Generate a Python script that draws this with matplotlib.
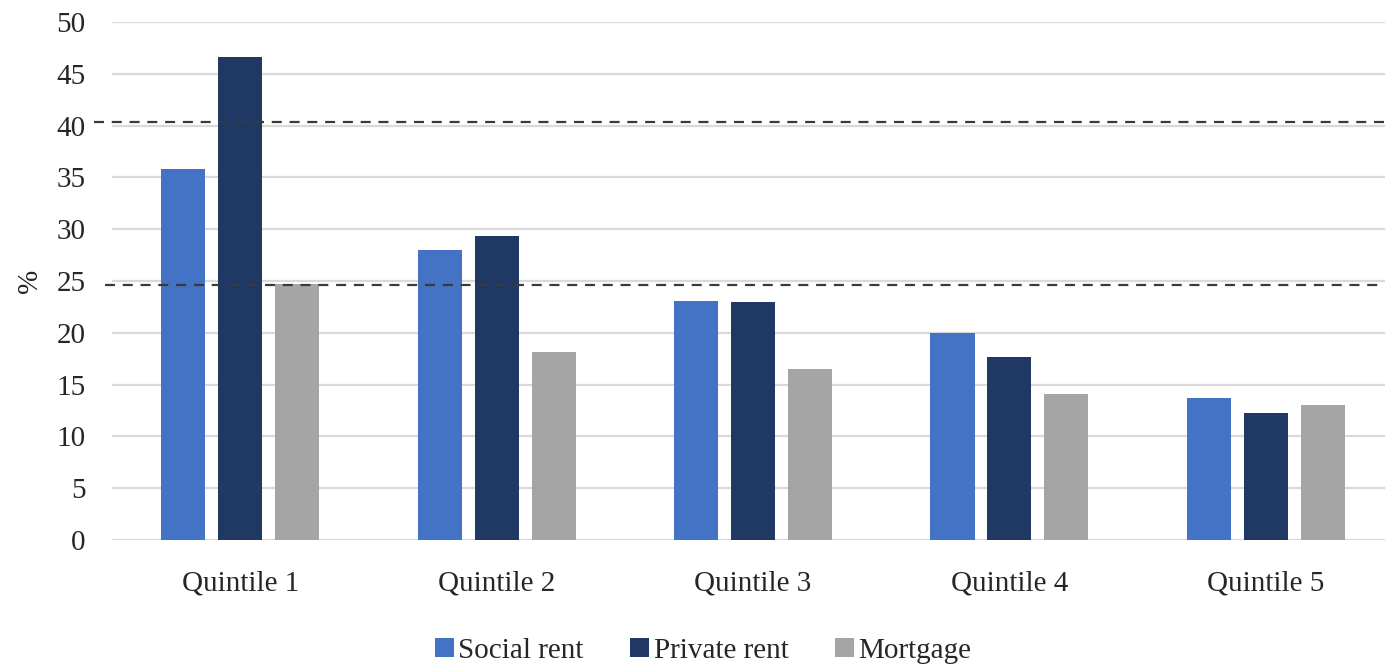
import matplotlib
matplotlib.use('Agg')
import matplotlib.pyplot as plt
import numpy as np

# data
categories = ['Quintile 1', 'Quintile 2', 'Quintile 3', 'Quintile 4', 'Quintile 5']
social_rent = [35.8, 28.0, 23.1, 20.0, 13.7]
private_rent = [46.6, 29.3, 23.0, 17.7, 12.3]
mortgage = [24.7, 18.1, 16.5, 14.1, 13.0]
ref_lines = [40.35, 24.6]
yticks = [0, 5, 10, 15, 20, 25, 30, 35, 40, 45, 50]

plt.rcParams['font.family'] = ['Liberation Serif', 'DejaVu Serif']
txt_color = '#262626'
fs = 21

fig = plt.figure(figsize=(13.85, 6.65), dpi=100)
ax = fig.add_axes([0.0809, 0.188, 0.9256, 0.779])

x = np.arange(len(categories))
step = 0.222
width = 0.172
series = [
    (social_rent, 'Social rent', '#4472C4'),
    (private_rent, 'Private rent', '#203864'),
    (mortgage, 'Mortgage', '#A5A5A5'),
]
for i, (vals, label, color) in enumerate(series):
    ax.bar(x + (i - 1) * step, vals, width, color=color, label=label, zorder=3)

# grid
for t in yticks:
    ax.axhline(t, color='#d9d9d9', linewidth=1.6, zorder=1)

# dashed reference lines, slightly sticking out to the left
starts = [-0.014, -0.0055]
for val, s in zip(ref_lines, starts):
    ax.plot([s, 1.0], [val, val], transform=ax.get_yaxis_transform(),
            color='#3a3a3a', linewidth=1.6, dashes=(4.5, 3.5),
            clip_on=False, zorder=4)

ax.set_xlim(-0.5, 4.5)
ax.set_ylim(0, 50)
ax.set_yticks(yticks)
ax.set_xticks(x)
ax.set_xticklabels(categories)
ax.tick_params(axis='both', length=0, labelsize=fs, colors=txt_color)
ax.tick_params(axis='y', pad=19)
ax.tick_params(axis='x', pad=22)
for sp in ax.spines.values():
    sp.set_visible(False)

ax.set_ylabel('%', fontsize=fs, color=txt_color, labelpad=10)

ax.legend(loc='center', bbox_to_anchor=(0.461, -0.214), ncol=3,
          frameon=False, fontsize=fs, handlelength=0.65, handleheight=0.65,
          handletextpad=0.15, columnspacing=1.6, labelcolor=txt_color,
          borderpad=0)

fig.savefig('out.png', dpi=100)
